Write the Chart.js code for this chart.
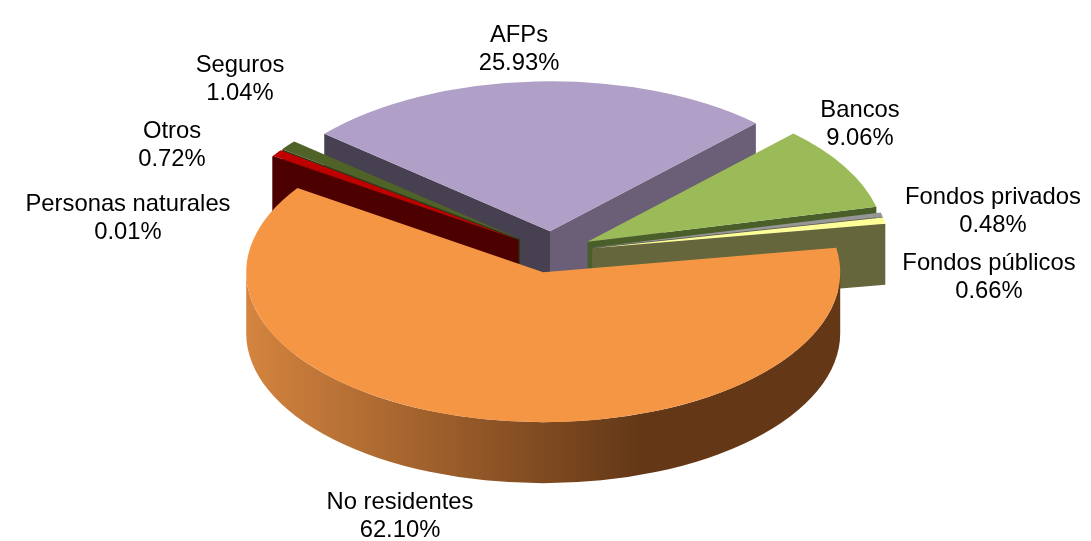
<!DOCTYPE html>
<html>
<head>
<meta charset="utf-8">
<style>
  html, body { margin: 0; padding: 0; background: #fff; }
  #wrap { width: 1091px; height: 541px; position: relative; }
</style>
<script src="https://cdn.jsdelivr.net/npm/chart.js@4"></script>
</head>
<body>
<div id="wrap"><canvas id="pieChart"></canvas></div>
<script>
// Data, clockwise from the right edge of the big slice
const categories = ['No residentes', 'Personas naturales', 'Otros', 'Seguros', 'AFPs', 'Bancos', 'Fondos privados', 'Fondos públicos'];
const shares = [62.10, 0.01, 0.72, 1.04, 25.93, 9.06, 0.48, 0.66];
const shareLabels = ['62.10%', '0.01%', '0.72%', '1.04%', '25.93%', '9.06%', '0.48%', '0.66%'];

// Colours per slice: top face, wall on the start side, wall on the end side
const topColors = ['#F59645', '#C00000', '#C00000', '#4F6228', '#B09FC6', '#9BBB59', '#969696', '#FFFF99'];
const startWalls = ['#643817', '#4C0000', '#4C0000', '#2F3A18', '#474050', '#5D7035', '#5A5A5A', '#66663D'];
const endWalls = ['#643817', '#4C0000', '#4C0000', '#2F3A18', '#6A5F77', '#4A5E2A', '#5A5A5A', '#66663D'];
const rimLeft = ['#D4843F', '#800000', '#800000', '#4F6228', '#6A5F77', '#5D7035', '#777777', '#66663D'];
const rimRight = ['#643817', '#4C0000', '#4C0000', '#2F3A18', '#474050', '#4A5E2A', '#5A5A5A', '#66663D'];

// Label centres in page pixels
const labelCentres = [[400, 502], [128, 204], [172, 131], [240, 65], [519, 35], [860, 110], [993, 197], [989, 263]];

const tilt = 0.505;    // vertical squash of the pie
const depth = 61;      // height of the walls
const explode = 41;
const pieRadius = 297;

function midAngle(arc) {
    return (arc.startAngle + arc.endAngle) / 2;
}

function facePoint(arc, angle, r) {
    const mid = midAngle(arc);
    return {
        x: arc.x + r * Math.cos(angle) + explode * Math.cos(mid),
        y: arc.y + (r * Math.sin(angle) + explode * Math.sin(mid)) * tilt
    };
}

function drawRadialWall(ctx, arc, angle, color) {
    const apex = facePoint(arc, angle, 0);
    const outer = facePoint(arc, angle, arc.outerRadius);
    ctx.fillStyle = color;
    ctx.beginPath();
    ctx.moveTo(apex.x, apex.y);
    ctx.lineTo(outer.x, outer.y);
    ctx.lineTo(outer.x, outer.y + depth);
    ctx.lineTo(apex.x, apex.y + depth);
    ctx.closePath();
    ctx.fill();
}

function drawRim(ctx, arc, i) {
    // only the part that faces the viewer, 0..PI in canvas angles
    let a0 = arc.startAngle, a1 = arc.endAngle;
    if (a1 <= 0 || a0 >= Math.PI) return;
    a0 = Math.max(a0, 0);
    a1 = Math.min(a1, Math.PI);
    const c = facePoint(arc, 0, 0);
    const r = arc.outerRadius;
    const grad = ctx.createLinearGradient(c.x - r, 0, c.x + r, 0);
    grad.addColorStop(0, rimLeft[i]);
    grad.addColorStop(0.66, rimRight[i]);
    grad.addColorStop(1, rimRight[i]);
    ctx.fillStyle = grad;
    ctx.beginPath();
    ctx.ellipse(c.x, c.y, r, r * tilt, 0, a0, a1);
    ctx.ellipse(c.x, c.y + depth, r, r * tilt, 0, a1, a0, true);
    ctx.closePath();
    ctx.fill();
}

const pie3d = {
    id: 'pie3d',
    beforeDatasetsDraw(chart) {
        const ctx = chart.ctx;
        const arcs = chart.getDatasetMeta(0).data;
        // back slices first, the big front slice last
        const order = [4, 3, 1, 2, 5, 6, 7, 0];
        ctx.save();
        order.forEach(i => {
            const arc = arcs[i];
            if (Math.cos(arc.startAngle) < 0) drawRadialWall(ctx, arc, arc.startAngle, startWalls[i]);
            if (Math.cos(arc.endAngle) > 0) drawRadialWall(ctx, arc, arc.endAngle, endWalls[i]);
            drawRim(ctx, arc, i);
        });
        ctx.restore();

        // top faces are the library's own arcs, squashed and pushed out
        order.forEach(i => {
            const arc = arcs[i];
            const mid = midAngle(arc);
            ctx.save();
            ctx.translate(arc.x, arc.y);
            ctx.scale(1, tilt);
            ctx.translate(explode * Math.cos(mid) - arc.x, explode * Math.sin(mid) - arc.y);
            arc.draw(ctx);
            ctx.restore();
        });
        return false;
    },
    afterDraw(chart) {
        const ctx = chart.ctx;
        ctx.save();
        ctx.fillStyle = '#000';
        ctx.font = '23.8px "Liberation Sans", Arial, sans-serif';
        ctx.textAlign = 'center';
        ctx.textBaseline = 'middle';
        categories.forEach((name, i) => {
            const [x, y] = labelCentres[i];
            ctx.fillText(name, x, y);
            ctx.fillText(shareLabels[i], x, y + 28);
        });
        ctx.restore();
    }
};

new Chart(document.getElementById('pieChart'), {
    type: 'pie',
    data: {
        labels: categories,
        datasets: [{
            data: shares,
            backgroundColor: topColors,
            borderWidth: 0
        }]
    },
    options: {
        responsive: true,
        maintainAspectRatio: false,
        animation: false,
        rotation: 80.6,
        radius: pieRadius,
        layout: { padding: { left: 13, bottom: 37 } },
        plugins: { legend: { display: false }, tooltip: { enabled: false } }
    },
    plugins: [pie3d]
});
</script>
</body>
</html>
